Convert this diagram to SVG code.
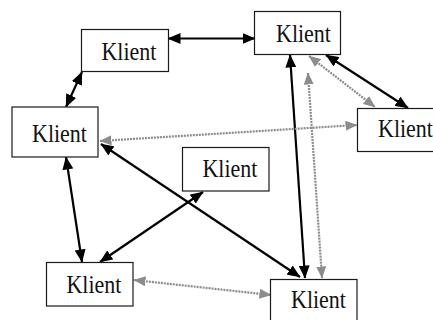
<svg xmlns="http://www.w3.org/2000/svg" width="433" height="320" viewBox="0 0 433 320">
<defs>
<style>
.box{fill:#fff;stroke:#1a1a1a;stroke-width:1.2}
.lbl{font-family:"Liberation Serif","Times New Roman",serif;font-size:22px;fill:#111}
.blk{stroke:#000;stroke-width:2.2;fill:none;marker-start:url(#ab);marker-end:url(#ab)}
.gry{stroke:#8c8c8c;stroke-width:2.2;stroke-dasharray:2 1;fill:none;marker-start:url(#ag);marker-end:url(#ag)}
</style>
<marker id="ab" markerUnits="userSpaceOnUse" markerWidth="13" markerHeight="11" refX="12.5" refY="5.5" orient="auto-start-reverse" viewBox="0 0 13 11">
<path d="M0,0 L13,5.5 L0,11 z" fill="#000"/>
</marker>
<marker id="ag" markerUnits="userSpaceOnUse" markerWidth="12" markerHeight="10" refX="11.5" refY="5" orient="auto-start-reverse" viewBox="0 0 12 10">
<path d="M0,0 L12,5 L0,10 z" fill="#8c8c8c"/>
</marker>
</defs>
<rect width="433" height="320" fill="#fff"/>
<g id="connectors">
<line class="blk" x1="168" y1="38.5" x2="255" y2="38.5"/>
<line class="blk" x1="82" y1="72" x2="66" y2="107"/>
<line class="blk" x1="66" y1="157" x2="82" y2="262"/>
<line class="blk" x1="203" y1="192" x2="100" y2="262"/>
<line class="blk" x1="101" y1="144" x2="300" y2="277"/>
<line class="blk" x1="290" y1="55" x2="305" y2="278"/>
<line class="blk" x1="326" y1="55" x2="408" y2="108"/>
<line class="gry" x1="309" y1="56" x2="375" y2="107"/>
<line class="gry" x1="100" y1="141" x2="357" y2="125"/>
<line class="gry" x1="308" y1="73" x2="322" y2="278"/>
<line class="gry" x1="134" y1="280" x2="271" y2="295"/>
</g>
<g id="klient-a"><rect class="box" x="81.5" y="29.5" width="87" height="42"/><text class="lbl" transform="translate(101.4,60) scale(1,1.12)">Klient</text></g>
<g id="klient-b"><rect class="box" x="254.5" y="11.5" width="86" height="43"/><text class="lbl" transform="translate(276,41.7) scale(1,1.12)">Klient</text></g>
<g id="klient-c"><rect class="box" x="12" y="107" width="86" height="50"/><text class="lbl" transform="translate(32,141.7) scale(1,1.12)">Klient</text></g>
<g id="klient-d"><rect class="box" x="357.5" y="108.5" width="87" height="43"/><text class="lbl" transform="translate(378,136.7) scale(1,1.12)">Klient</text></g>
<g id="klient-e"><rect class="box" x="182.5" y="147.5" width="86.5" height="43.5"/><text class="lbl" transform="translate(202.4,177.3) scale(1,1.12)">Klient</text></g>
<g id="klient-f"><rect class="box" x="46.5" y="262.5" width="86.5" height="43.5"/><text class="lbl" transform="translate(66.4,292.7) scale(1,1.12)">Klient</text></g>
<g id="klient-g"><rect class="box" x="270.5" y="279.5" width="86.5" height="44"/><text class="lbl" transform="translate(291,307.7) scale(1,1.12)">Klient</text></g>
</svg>
